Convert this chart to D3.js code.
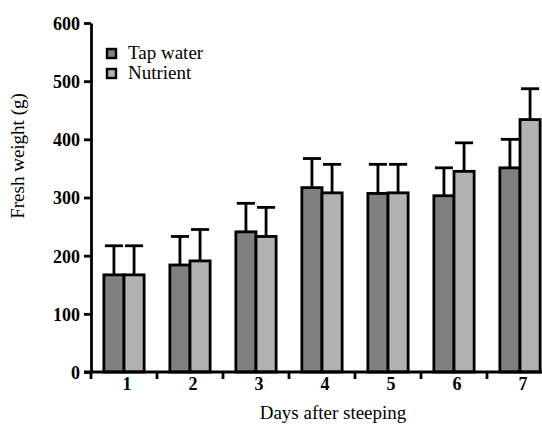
<!DOCTYPE html>
<html>
<head>
<meta charset="utf-8">
<script src="https://cdn.jsdelivr.net/npm/d3@7"></script>
<style>
  body { margin: 0; background: #fff; }
  svg { display: block; }
  text { font-family: "Liberation Serif", "Times New Roman", serif; fill: #000; }
</style>
</head>
<body>
<div id="chart"></div>
<script>
const days = ["1", "2", "3", "4", "5", "6", "7"];
const series = ["Tap water", "Nutrient"];
const tapMean = [167, 184, 241, 317, 307, 303, 351];
const tapSD = [50, 49, 49, 50, 50, 48, 49];
const nutMean = [167, 191, 233, 308, 308, 345, 434];
const nutSD = [50, 54, 50, 49, 49, 49, 53];
const yTicks = [0, 100, 200, 300, 400, 500, 600];
const colors = ["#808080", "#b2b2b2"];

const width = 542, height = 426;
const sw = 2.8;
const svg = d3.select("#chart").append("svg").attr("width", width).attr("height", height);

const x0 = d3.scaleBand().domain(days).range([91, 553]).paddingInner(0.39).paddingOuter(0.195);
const x1 = d3.scaleBand().domain(series).range([0, x0.bandwidth()]);
const y = d3.scaleLinear().domain([0, 600]).range([372, 23]);

const rows = days.map((d, i) => ({
  day: d,
  vals: [
    { s: series[0], mean: tapMean[i], sd: tapSD[i] },
    { s: series[1], mean: nutMean[i], sd: nutSD[i] }
  ]
}));

// error bars first so the bar outline sits on top
const groups = svg.append("g").selectAll("g").data(rows).join("g")
  .attr("transform", d => `translate(${x0(d.day)},0)`);

groups.selectAll("g.err").data(d => d.vals).join("g").attr("class", "err")
  .each(function(d) {
    const g = d3.select(this);
    const cx = x1(d.s) + x1.bandwidth() / 2;
    const cw = x1.bandwidth() * 0.9;
    g.append("line").attr("x1", cx).attr("x2", cx)
      .attr("y1", y(d.mean)).attr("y2", y(d.mean + d.sd))
      .attr("stroke", "#000").attr("stroke-width", sw);
    g.append("line").attr("x1", cx - cw / 2).attr("x2", cx + cw / 2)
      .attr("y1", y(d.mean + d.sd)).attr("y2", y(d.mean + d.sd))
      .attr("stroke", "#000").attr("stroke-width", sw);
  });

groups.selectAll("rect").data(d => d.vals).join("rect")
  .attr("x", d => x1(d.s))
  .attr("width", x1.bandwidth())
  .attr("y", d => y(d.mean))
  .attr("height", d => y(0) - y(d.mean))
  .attr("fill", (d, i) => colors[i])
  .attr("stroke", "#000").attr("stroke-width", sw);

// y axis
const yAxis = svg.append("g").attr("transform", "translate(91,0)")
  .call(d3.axisLeft(y).tickValues(yTicks).tickSize(7).tickSizeOuter(0));
yAxis.select(".domain").attr("stroke-width", sw);
yAxis.selectAll(".tick line").attr("stroke-width", sw);
yAxis.selectAll(".tick text").attr("x", -11).attr("dy", "0.36em")
  .style("font-size", "18px").style("font-weight", "bold")
  .style("font-family", "'Liberation Serif', serif");

// x axis: line, boundary ticks and centred labels
const step = x0.step();
const bounds = days.map(d => x0(d) - step * x0.paddingInner() / 2);
const xg = svg.append("g");
xg.append("line").attr("x1", 84).attr("x2", width).attr("y1", y(0)).attr("y2", y(0))
  .attr("stroke", "#000").attr("stroke-width", sw);
xg.selectAll("line.tk").data(bounds).join("line").attr("class", "tk")
  .attr("x1", d => d).attr("x2", d => d)
  .attr("y1", y(0)).attr("y2", y(0) + 7)
  .attr("stroke", "#000").attr("stroke-width", sw);
xg.selectAll("text").data(days).join("text")
  .attr("x", d => x0(d) + x0.bandwidth() / 2 + 3)
  .attr("y", 390)
  .attr("text-anchor", "middle")
  .style("font-size", "18px").style("font-weight", "bold")
  .text(d => d);

// titles
svg.append("text").attr("x", 333).attr("y", 419).attr("text-anchor", "middle")
  .style("font-size", "19px").text("Days after steeping");
svg.append("text").attr("transform", "translate(24,156) rotate(-90)").attr("text-anchor", "middle")
  .style("font-size", "19px").text("Fresh weight (g)");

// legend
const leg = svg.append("g").selectAll("g").data(series).join("g")
  .attr("transform", (d, i) => `translate(107,${49 + i * 20})`);
leg.append("rect").attr("width", 9).attr("height", 9)
  .attr("fill", (d, i) => colors[i]).attr("stroke", "#000").attr("stroke-width", 2.4);
leg.append("text").attr("x", 21).attr("y", 10)
  .style("font-size", "19px").text(d => d);
</script>
</body>
</html>
